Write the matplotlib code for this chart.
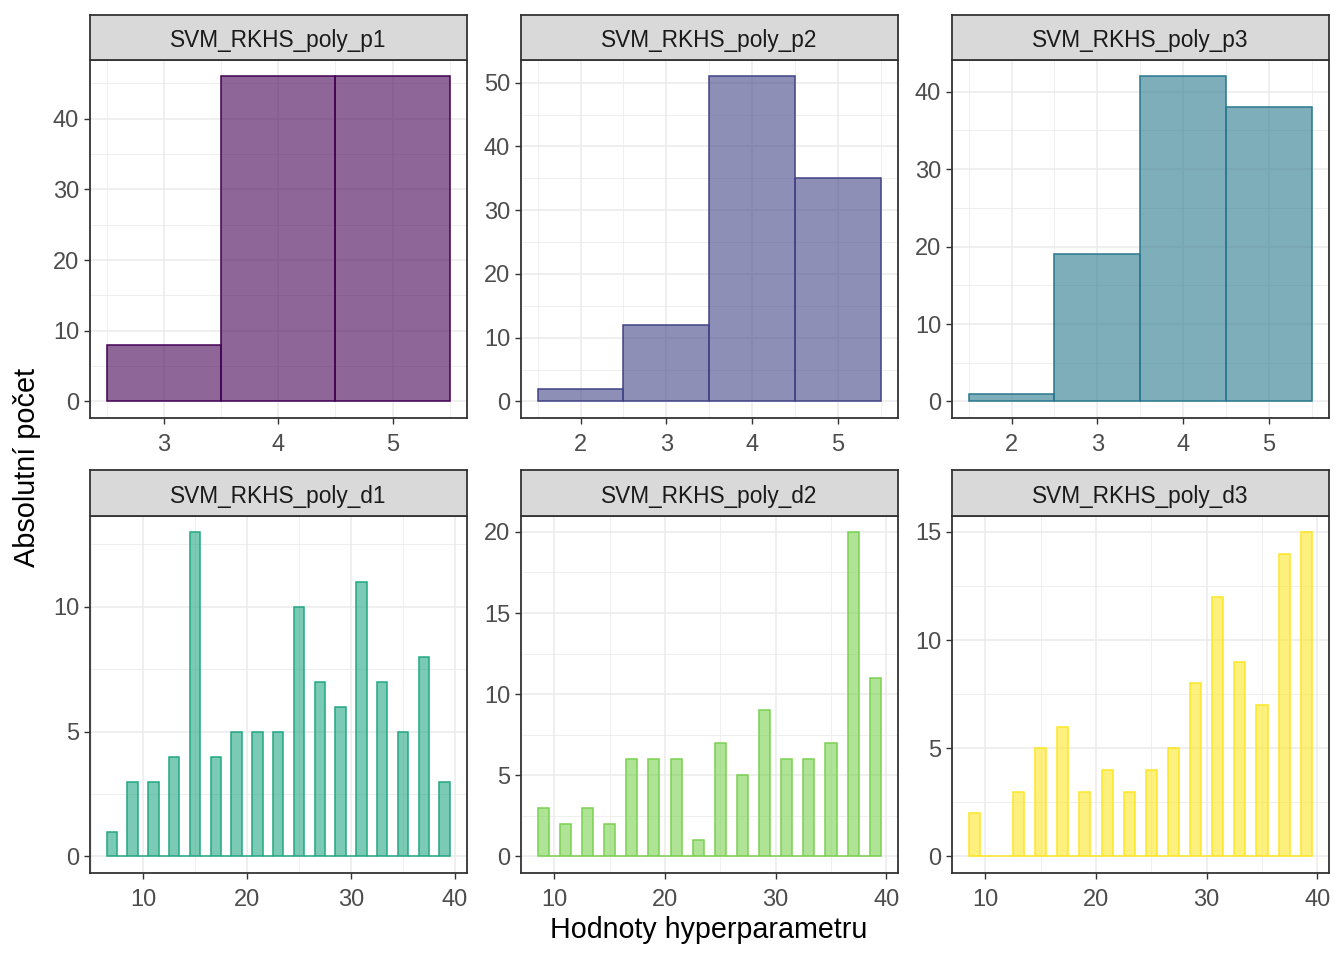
import matplotlib
matplotlib.use("Agg")
import matplotlib.pyplot as plt
from matplotlib.ticker import FixedLocator

plt.rcParams['font.family'] = ['Liberation Sans', 'DejaVu Sans']

# ---- data ----
titles = ["SVM_RKHS_poly_p1", "SVM_RKHS_poly_p2", "SVM_RKHS_poly_p3",
          "SVM_RKHS_poly_d1", "SVM_RKHS_poly_d2", "SVM_RKHS_poly_d3"]
colors = ["#440154", "#414487", "#2A788E", "#22A884", "#7AD151", "#FDE725"]

p1_x = [3, 4, 5]
p1_y = [8, 46, 46]
p2_x = [2, 3, 4, 5]
p2_y = [2, 12, 51, 35]
p3_x = [2, 3, 4, 5]
p3_y = [1, 19, 42, 38]

d1_x = [7, 9, 11, 13, 15, 17, 19, 21, 23, 25, 27, 29, 31, 33, 35, 37, 39]
d1_y = [1, 3, 3, 4, 13, 4, 5, 5, 5, 10, 7, 6, 11, 7, 5, 8, 3]
d2_x = [9, 11, 13, 15, 17, 19, 21, 23, 25, 27, 29, 31, 33, 35, 37, 39]
d2_y = [3, 2, 3, 2, 6, 6, 6, 1, 7, 5, 9, 6, 6, 7, 20, 11]
d3_x = [9, 11, 13, 15, 17, 19, 21, 23, 25, 27, 29, 31, 33, 35, 37, 39]
d3_y = [2, 0, 3, 5, 6, 3, 4, 3, 4, 5, 8, 12, 9, 7, 14, 15]

xs = [p1_x, p2_x, p3_x, d1_x, d2_x, d3_x]
ys = [p1_y, p2_y, p3_y, d1_y, d2_y, d3_y]

p1_xticks = [3, 4, 5]
p_xticks = [2, 3, 4, 5]
d_xticks = [10, 20, 30, 40]
yticks = [[0, 10, 20, 30, 40], [0, 10, 20, 30, 40, 50], [0, 10, 20, 30, 40],
          [0, 5, 10], [0, 5, 10, 15, 20], [0, 5, 10, 15]]
xticks = [p1_xticks, p_xticks, p_xticks, d_xticks, d_xticks, d_xticks]

# ---- figure ----
W, H = 1344, 960
fig = plt.figure(figsize=(W / 100, H / 100), dpi=100)

lefts = [89.5, 520.5, 951.5]
pw = 377.5
rows = [(60.0, 417.7), (515.7, 872.7)]
strip_h = 45.5

border = "#333333"
for i in range(6):
    r, c = divmod(i, 3)
    top, bot = rows[r]
    ax = fig.add_axes([lefts[c] / W, 1 - bot / H, pw / W, (bot - top) / H])
    sax = fig.add_axes([lefts[c] / W, 1 - top / H, pw / W, strip_h / H])

    x = xs[i]
    y = ys[i]
    # fill all bins between first and last (empty bins drawn as baseline)
    allx = list(range(x[0], x[-1] + 1))
    ally = [y[x.index(v)] if v in x else 0 for v in allx]
    ax.bar(allx, ally, width=1.0, align='center',
           facecolor=colors[i], alpha=0.6, edgecolor='none', zorder=2)
    ax.bar(allx, ally, width=1.0, align='center',
           facecolor='none', edgecolor=colors[i], linewidth=1.1, zorder=3)

    lo = allx[0] - 0.5
    hi = allx[-1] + 0.5
    ex = (hi - lo) * 0.05
    ax.set_xlim(lo - ex, hi + ex)
    ymax = max(y)
    ax.set_ylim(-0.05 * ymax, 1.05 * ymax)

    ax.set_xticks(xticks[i])
    ax.set_yticks(yticks[i])
    xt = xticks[i]
    dx = xt[1] - xt[0]
    xmin_ = [xt[0] - dx / 2] + [v + dx / 2 for v in xt]
    yt = yticks[i]
    dy = yt[1] - yt[0]
    ymin_ = [v + dy / 2 for v in yt]
    ax.xaxis.set_minor_locator(FixedLocator(xmin_))
    ax.yaxis.set_minor_locator(FixedLocator(ymin_))
    ax.grid(which='major', color='#EBEBEB', linewidth=1.1, zorder=0)
    ax.grid(which='minor', color='#EBEBEB', linewidth=0.55, zorder=0)
    ax.set_axisbelow(True)
    ax.tick_params(which='minor', length=0)
    ax.tick_params(which='major', length=4, width=1.0, color=border,
                   labelsize=17, labelcolor='#4D4D4D')
    ax.tick_params(axis='x', which='major', pad=7.5)
    ax.tick_params(axis='y', which='major', pad=3.5)
    for s in ax.spines.values():
        s.set_color(border)
        s.set_linewidth(1.3)
        s.set_zorder(5)

    sax.set_facecolor('#D9D9D9')
    sax.set_xticks([])
    sax.set_yticks([])
    for s in sax.spines.values():
        s.set_color(border)
        s.set_linewidth(1.3)
    sax.text(0.5, 0.43, titles[i], ha='center', va='center',
             fontsize=16.3, color='#1A1A1A', transform=sax.transAxes)

fig.text(27 / W, 1 - 467 / H, "Absolutní počet", rotation=90,
         ha='center', va='center', fontsize=20.8, color='black')
fig.text(709 / W, 1 - 930 / H, "Hodnoty hyperparametru",
         ha='center', va='center', fontsize=20.6, color='black')

fig.savefig("out.png", dpi=100, facecolor='white')
